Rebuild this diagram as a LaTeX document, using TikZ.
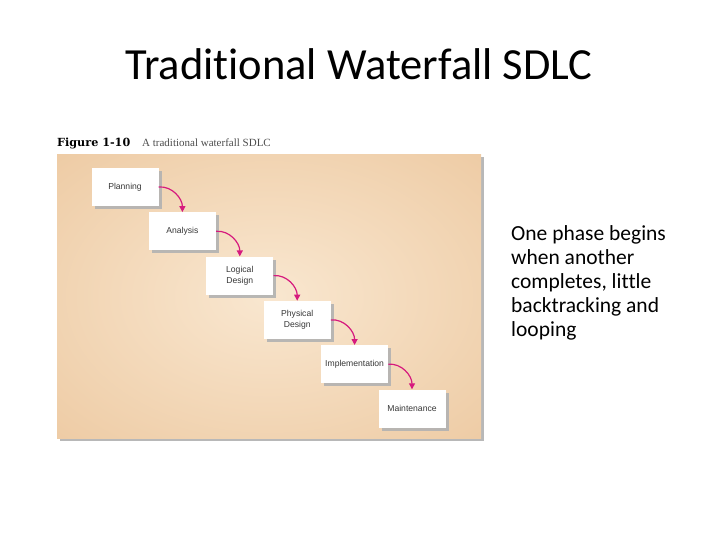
\documentclass[tikz,border=0pt]{standalone}
\usepackage{fontspec}
\setmainfont{Carlito}[Ligatures=NoCommon]
\newfontfamily\phasefont{Liberation Sans}
\newfontfamily\figfont{DejaVu Serif}
\newfontfamily\figsubfont{Liberation Serif}
\usetikzlibrary{positioning, arrows.meta, shadows}

\definecolor{panelMid}{RGB}{249,231,208}
\definecolor{panelEdge}{RGB}{234,194,150}
\definecolor{panelCorner}{RGB}{226,180,130}
\definecolor{flowPink}{RGB}{214,26,126}
\definecolor{phaseText}{RGB}{55,55,55}
\pgfdeclareradialshading{panelglow}{\pgfpoint{0bp}{0bp}}{color(0bp)=(panelMid); color(48bp)=(panelEdge); color(72bp)=(panelCorner)}

\begin{document}
\begin{tikzpicture}[x=1pt, y=-1pt,
    phase/.style={fill=white, minimum width=67pt, minimum height=38pt, inner sep=1pt,
        align=center, text=phaseText, font=\phasefont\fontsize{8.6}{10.5}\selectfont,
        drop shadow={shadow xshift=3pt, shadow yshift=-3pt, fill=black!30, opacity=0.9}},
    flow/.style={draw=flowPink, line width=1.2pt, -{Triangle[length=6pt, width=6pt]}}]

    % page size
    \useasboundingbox (0,0) rectangle (720,540);

    % 1. title
    \node[font=\fontsize{44.5}{52}\selectfont, anchor=base] (title) at (359,80) {Traditional Waterfall SDLC};

    % 2. figure caption
    \node[anchor=base west, inner sep=0, font=\figfont\bfseries\fontsize{11.2}{13}\selectfont] (fignum) at (57,147) {Figure 1-10};
    \node[anchor=base west, inner sep=0, text=black!70, font=\figsubfont\fontsize{11}{13}\selectfont] (figname) at (142,147) {A traditional waterfall SDLC};

    % background panel
    \shade[shading=panelglow, drop shadow={shadow xshift=2.5pt, shadow yshift=-2.5pt, fill=black!35, opacity=0.8}]
        (57,155) rectangle (481,438);

    % 3. phases
    \node[phase] (plan) at (125,187) {Planning};
    \node[phase] (anal) at (182.4,231.3) {Analysis};
    \node[phase] (logi) at (239.8,275.6) {Logical\\Design};
    \node[phase] (phys) at (297.2,319.9) {Physical\\Design};
    \node[phase] (impl) at (354.6,364.2) {Implementation};
    \node[phase] (main) at (412,408.5) {Maintenance};

    % connectors
    \draw[flow] (plan.east) to[out=5, in=90] (anal.north);
    \draw[flow] (anal.east) to[out=5, in=90] (logi.north);
    \draw[flow] (logi.east) to[out=5, in=90] (phys.north);
    \draw[flow] (phys.east) to[out=5, in=90] (impl.north);
    \draw[flow] (impl.east) to[out=5, in=90] (main.north);

    % 4. side note
    \node[anchor=north west, inner sep=0, align=left, font=\fontsize{21.5}{24}\selectfont] (note) at (511,225)
        {One phase begins\\when another\\completes, little\\backtracking and\\looping};

\end{tikzpicture}
\end{document}
